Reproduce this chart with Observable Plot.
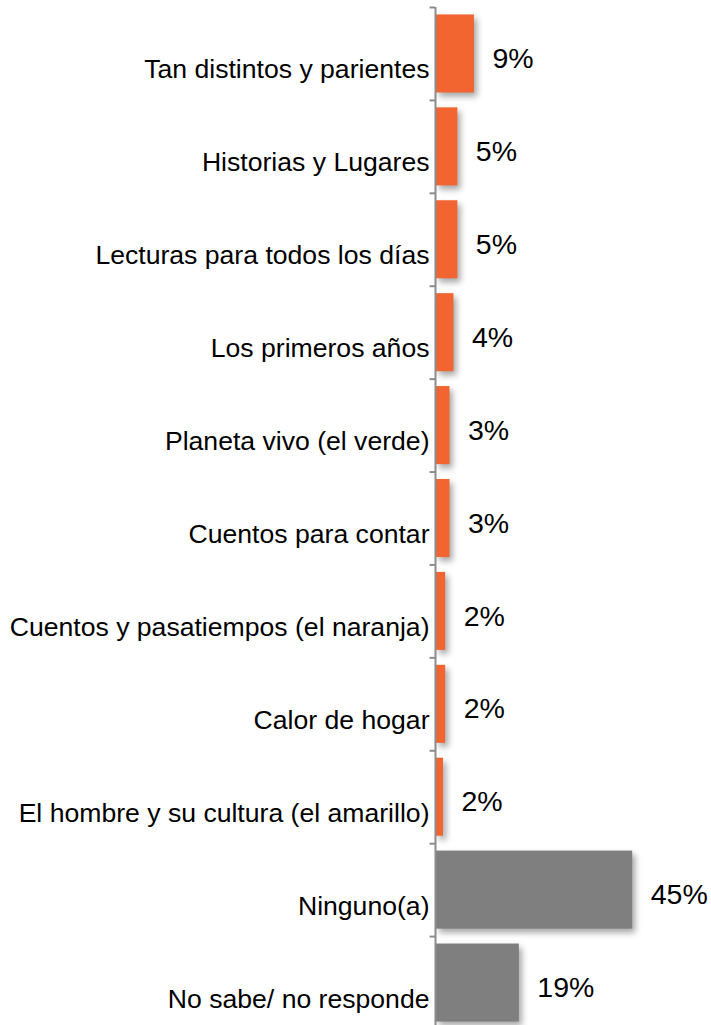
<!DOCTYPE html>
<html>
<head>
<meta charset="utf-8">
<script src="https://cdn.jsdelivr.net/npm/d3@7"></script>
<script src="https://cdn.jsdelivr.net/npm/@observablehq/plot@0.6"></script>
<style>
  html, body { margin: 0; padding: 0; background: #fff; }
  #chart { width: 711px; height: 1025px; overflow: hidden; }
</style>
</head>
<body>
<div id="chart"></div>
<script>
const categories = [
  "Tan distintos y parientes",
  "Historias y Lugares",
  "Lecturas para todos los días",
  "Los primeros años",
  "Planeta vivo (el verde)",
  "Cuentos para contar",
  "Cuentos y pasatiempos (el naranja)",
  "Calor de hogar",
  "El hombre y su cultura (el amarillo)",
  "Ninguno(a)",
  "No sabe/ no responde"
];
const values = [8.7, 4.9, 4.9, 4.0, 3.1, 3.1, 2.1, 2.1, 1.6, 45, 19];
const valueLabels = ["9%", "5%", "5%", "4%", "3%", "3%", "2%", "2%", "2%", "45%", "19%"];
const groups = ["libro", "libro", "libro", "libro", "libro", "libro", "libro", "libro", "libro", "otro", "otro"];
const groupColors = ["#F26430", "#7F7F7F"];

const data = categories.map((c, i) => ({cat: c, value: values[i], label: valueLabels[i], group: groups[i]}));

const yRange = [7, 1029];
const pIn = 0.16, pOut = 0.08;
const step = (yRange[1] - yRange[0]) / (categories.length - pIn + 2 * pOut);

const chart = Plot.plot({
  width: 711,
  height: 1025,
  marginTop: 7,
  marginBottom: 0,
  marginLeft: 436,
  marginRight: 0,
  x: {domain: [0, 50], range: [436, 436 + 218], axis: null},
  y: {domain: categories, range: yRange, paddingInner: pIn, paddingOuter: pOut, round: false, axis: null},
  color: {domain: ["libro", "otro"], range: groupColors},
  style: {fontFamily: "'Liberation Sans', Arial, sans-serif", background: "white", color: "black"},
  marks: [
    Plot.barX(data, {x: "value", y: "cat", fill: "group"}),
    Plot.ruleX([0], {stroke: "#8C8C8C", strokeWidth: 2, dx: -1}),
    Plot.ruleY(categories, {y: d => d, x1: -1.25, x2: 0, dx: -1, dy: -step / 2, stroke: "#8C8C8C", strokeWidth: 2}),
    Plot.text(data, {x: 0, y: "cat", text: "cat", textAnchor: "end", dx: -7, dy: 16, fontSize: 26.6, fill: "black"}),
    Plot.text(data, {x: "value", y: "cat", text: "label", textAnchor: "start", dx: 18, dy: 5, fontSize: 28.5, fill: "black"})
  ]
});

chart.querySelectorAll('g[aria-label="bar"]').forEach(g => {
  g.style.filter = "drop-shadow(3px 4px 3px rgba(0,0,0,0.35))";
});

document.getElementById("chart").appendChild(chart);
</script>
</body>
</html>
